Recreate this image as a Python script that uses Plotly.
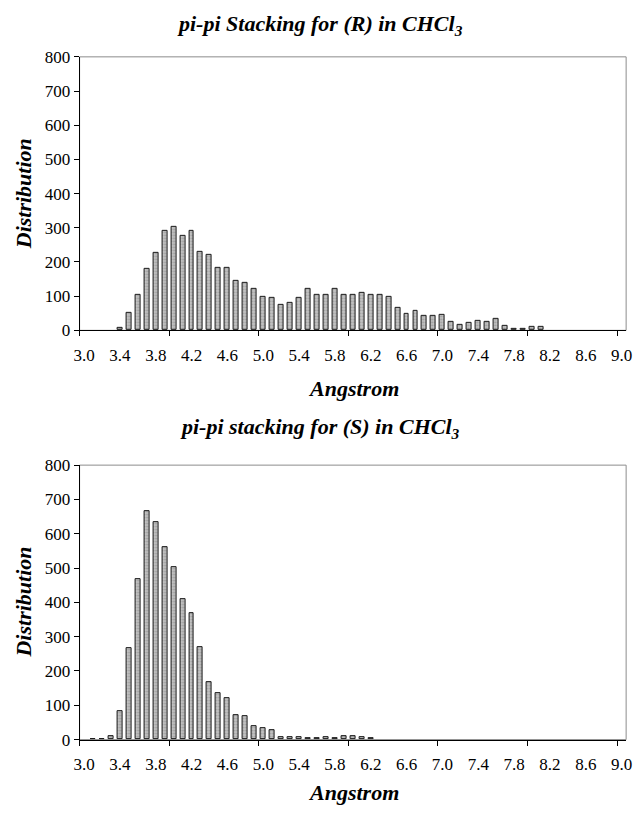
import plotly.graph_objects as go

# categories (Angstrom bins)
angstrom = [3.0, 3.1, 3.2, 3.3, 3.4, 3.5, 3.6, 3.7, 3.8, 3.9,
            4.0, 4.1, 4.2, 4.3, 4.4, 4.5, 4.6, 4.7, 4.8, 4.9,
            5.0, 5.1, 5.2, 5.3, 5.4, 5.5, 5.6, 5.7, 5.8, 5.9,
            6.0, 6.1, 6.2, 6.3, 6.4, 6.5, 6.6, 6.7, 6.8, 6.9,
            7.0, 7.1, 7.2, 7.3, 7.4, 7.5, 7.6, 7.7, 7.8, 7.9,
            8.0, 8.1, 8.2, 8.3, 8.4, 8.5, 8.6, 8.7, 8.8, 8.9,
            9.0]

dist_R = [0, 0, 0, 0, 8, 52, 105, 180, 226, 290,
          304, 276, 290, 230, 222, 182, 182, 145, 140, 120,
          99, 95, 76, 81, 94, 122, 105, 105, 120, 105,
          105, 111, 105, 103, 99, 65, 48, 57, 42, 43,
          46, 25, 16, 22, 28, 25, 34, 13, 5, 3,
          11, 10, 0, 0, 0, 0, 0, 0, 0, 0,
          0]

dist_S = [0, 1, 2, 10, 84, 268, 467, 667, 635, 562,
          504, 408, 368, 270, 167, 136, 120, 70, 68, 39,
          33, 27, 7, 7, 7, 4, 4, 6, 4, 9,
          9, 8, 3, 0, 0, 0, 0, 0, 0, 0,
          0, 0, 0, 0, 0, 0, 0, 0, 0, 0,
          0, 0, 0, 0, 0, 0, 0, 0, 0, 0,
          0]

x_labels = ["3.0", "3.4", "3.8", "4.2", "4.6", "5.0", "5.4", "5.8",
            "6.2", "6.6", "7.0", "7.4", "7.8", "8.2", "8.6", "9.0"]
x_label_vals = [3.0, 3.4, 3.8, 4.2, 4.6, 5.0, 5.4, 5.8,
                6.2, 6.6, 7.0, 7.4, 7.8, 8.2, 8.6, 9.0]
x_mark_vals = [2.95, 3.95, 4.95, 5.95, 6.95, 7.95, 8.95]

title_R = "pi-pi Stacking for (R) in CHCl<sub>3</sub>"
title_S = "pi-pi stacking for (S) in CHCl<sub>3</sub>"

W, H = 639, 816
FONT = "Liberation Serif"

def py(p):  # pixel y -> paper y
    return 1 - p / H

def px(p):
    return p / W

def bar_style(values):
    return dict(
        color="#c4c4c4",
        line=dict(color="#1a1a1a", width=[1 if v > 0 else 0 for v in values]),
        pattern=dict(shape=".", fgcolor="#6a6a6a", size=3, solidity=0.35),
    )

fig = go.Figure()
fig.add_trace(go.Bar(x=angstrom, y=dist_R, width=0.055, marker=bar_style(dist_R),
                     xaxis="x", yaxis="y", showlegend=False))
fig.add_trace(go.Bar(x=angstrom, y=dist_S, width=0.055, marker=bar_style(dist_S),
                     xaxis="x2", yaxis="y2", showlegend=False))

x_dom = [px(75), px(632)]
top_dom = [py(329), py(49)]
bot_dom = [py(748), py(467)]

def xaxis(anchor):
    return dict(
        domain=x_dom, anchor=anchor, range=[2.95, 9.05],
        tickmode="array", tickvals=x_label_vals, ticktext=x_labels, ticks="",
        ticklabelstandoff=9,
        tickfont=dict(family=FONT, size=17, color="black"),
        showline=True, linecolor="black", linewidth=1,
        showgrid=False, zeroline=False,
        minor=dict(tickmode="array", tickvals=x_mark_vals, ticks="outside",
                   ticklen=5, tickcolor="black", tickwidth=1, showgrid=False),
    )

def yaxis(anchor, dom):
    return dict(
        domain=dom, anchor=anchor, range=[0, 800], dtick=100, tick0=0,
        ticks="outside", ticklen=5, tickcolor="black",
        tickfont=dict(family=FONT, size=17, color="black"),
        showline=True, linecolor="black", linewidth=1,
        showgrid=False, zeroline=False,
    )

fig.update_layout(
    width=W, height=H,
    margin=dict(l=0, r=0, t=0, b=0),
    paper_bgcolor="white", plot_bgcolor="white",
    bargap=0,
    xaxis=xaxis("y"), yaxis=yaxis("x", top_dom),
    xaxis2=xaxis("y2"), yaxis2=yaxis("x2", bot_dom),
    font=dict(family=FONT, color="black"),
)

# light plot-area frame (top / right)
for xr, yr in (("x domain", "y domain"), ("x2 domain", "y2 domain")):
    fig.add_shape(type="rect", xref=xr, yref=yr, x0=0, x1=1, y0=0, y1=1,
                  line=dict(color="#8c8c8c", width=1), layer="below")

annotations = [
    (title_R, 320, 16, 0, 22),
    ("Angstrom", 354, 389, 0, 22),
    ("Distribution", 18, 189, -90, 22),
    (title_S, 320, 429, 0, 22),
    ("Angstrom", 354, 802, 0, 22),
    ("Distribution", 18, 607, -90, 22),
]
for text, x, y, ang, size in annotations:
    fig.add_annotation(text="<b><i>" + text + "</i></b>", x=px(x), y=py(y),
                       xref="paper", yref="paper", showarrow=False,
                       textangle=ang,
                       font=dict(family=FONT, size=size, color="black"),
                       xanchor="center", yanchor="middle")

fig.write_html("out.html")
